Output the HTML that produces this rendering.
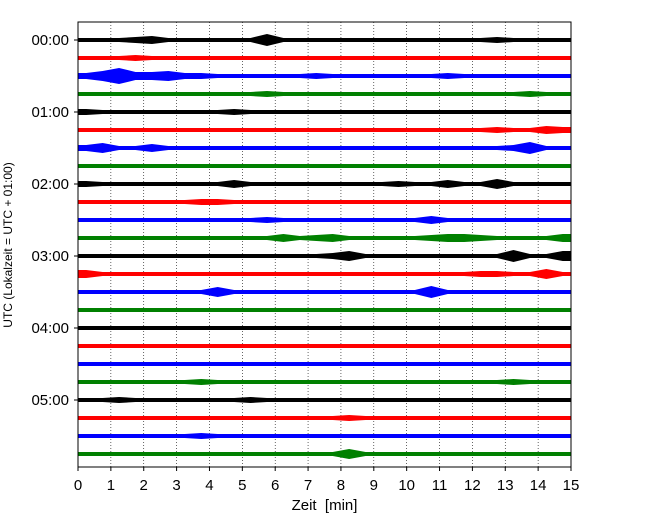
<!DOCTYPE html>
<html><head><meta charset="utf-8"><style>
body{margin:0;background:#fff;}
svg text{font-family:"Liberation Sans","DejaVu Sans",sans-serif;}
</style></head><body>
<svg id="chart" width="650" height="520" viewBox="0 0 650 520" xmlns="http://www.w3.org/2000/svg">
<rect x="0" y="0" width="650" height="520" fill="#fff"/>
<g id="grid"></g><g id="traces"></g><g id="axes"></g>
</svg>
<script>
// Data: row labels, colours, and per-trace amplitude envelopes (px half-amplitude per 0.5 min)
const rowLabels = ["00:00","01:00","02:00","03:00","04:00","05:00"];
const xTicks = [0,1,2,3,4,5,6,7,8,9,10,11,12,13,14,15];
const colors = ["#000000","#ff0000","#0000ff","#008000"];
const env = [
 [2,2,2,3,4,2,2,2,2,2,2,6,2,2,2,2,2,2,2,2,2,2,2,2,2,3,2,2,2,2],
 [2,2,2,3,2,2,2,2,2,2,2,2,2,2,2,2,2,2,2,2,2,2,2,2,2,2,2,2,2,2],
 [3,5,8,4,4,5,3,3,2,2,2,2,2,2,3,2,2,2,2,2,2,2,3,2,2,2,2,2,2,2],
 [2,2,2,2,2,2,2,2,2,2,2,3,2,2,2,2,2,2,2,2,2,2,2,2,2,2,2,3,2,2],
 [3,2,2,2,2,2,2,2,2,3,2,2,2,2,2,2,2,2,2,2,2,2,2,2,2,2,2,2,2,2],
 [2,2,2,2,2,2,2,2,2,2,2,2,2,2,2,2,2,2,2,2,2,2,2,2,2,3,2,2,4,3],
 [3,5,2,2,4,2,2,2,2,2,2,2,2,2,2,2,2,2,2,2,2,2,2,2,2,2,3,6,2,2],
 [2,2,2,2,2,2,2,2,2,2,2,2,2,2,2,2,2,2,2,2,2,2,2,2,2,2,2,2,2,2],
 [3,2,2,2,2,2,2,2,2,4,2,2,2,2,2,2,2,2,2,3,2,2,4,2,2,5,2,2,2,2],
 [2,2,2,2,2,2,2,3,3,2,2,2,2,2,2,2,2,2,2,2,2,2,2,2,2,2,2,2,2,2],
 [2,2,2,2,2,2,2,2,2,2,2,3,2,2,2,2,2,2,2,2,2,4,2,2,2,2,2,2,2,2],
 [2,2,2,2,2,2,2,2,2,2,2,2,4,2,3,4,2,2,2,2,2,3,4,4,3,2,2,2,2,4],
 [2,2,2,2,2,2,2,2,2,2,2,2,2,2,2,3,5,2,2,2,2,2,2,2,2,2,6,2,2,5],
 [4,2,2,2,2,2,2,2,2,2,2,2,2,2,2,2,2,2,2,2,2,2,2,2,3,3,2,2,5,2],
 [2,2,2,2,2,2,2,2,5,2,2,2,2,2,2,2,2,2,2,2,2,6,2,2,2,2,2,2,2,2],
 [2,2,2,2,2,2,2,2,2,2,2,2,2,2,2,2,2,2,2,2,2,2,2,2,2,2,2,2,2,2],
 [2,2,2,2,2,2,2,2,2,2,2,2,2,2,2,2,2,2,2,2,2,2,2,2,2,2,2,2,2,2],
 [2,2,2,2,2,2,2,2,2,2,2,2,2,2,2,2,2,2,2,2,2,2,2,2,2,2,2,2,2,2],
 [2,2,2,2,2,2,2,2,2,2,2,2,2,2,2,2,2,2,2,2,2,2,2,2,2,2,2,2,2,2],
 [2,2,2,2,2,2,2,3,2,2,2,2,2,2,2,2,2,2,2,2,2,2,2,2,2,2,3,2,2,2],
 [2,2,3,2,2,2,2,2,2,2,3,2,2,2,2,2,2,2,2,2,2,2,2,2,2,2,2,2,2,2],
 [2,2,2,2,2,2,2,2,2,2,2,2,2,2,2,2,3,2,2,2,2,2,2,2,2,2,2,2,2,2],
 [2,2,2,2,2,2,2,3,2,2,2,2,2,2,2,2,2,2,2,2,2,2,2,2,2,2,2,2,2,2],
 [2,2,2,2,2,2,2,2,2,2,2,2,2,2,2,2,5,2,2,2,2,2,2,2,2,2,2,2,2,2]
];
const NS="http://www.w3.org/2000/svg";
const L=78,R=571,T=22,B=467;
const xs=t=>L+(t/15)*(R-L);
const ys=i=>40+i*18;
function mk(tag,attrs,parent){const e=document.createElementNS(NS,tag);for(const k in attrs)e.setAttribute(k,attrs[k]);parent.appendChild(e);return e;}
const grid=document.getElementById('grid'),tr=document.getElementById('traces'),ax=document.getElementById('axes');
xTicks.forEach(t=>{if(t>0&&t<15){const g=mk('line',{x1:xs(t),x2:xs(t),y1:T,y2:B,stroke:'#000','stroke-width':0.6,'stroke-dasharray':'1,2'},grid);

}});
env.forEach((e,i)=>{
  const y=ys(i),n=e.length;let top=[xs(0)+','+(y-e[0])],bot=[xs(0)+','+(y+e[0])];
  for(let k=0;k<n;k++){const tc=(k+0.5)*15/n;
    top.push(xs(tc)+','+(y-e[k]));bot.unshift(xs(tc)+','+(y+e[k]));}
  top.push(xs(15)+','+(y-e[n-1]));bot.unshift(xs(15)+','+(y+e[n-1]));
  const p=mk('polygon',{points:top.concat(bot).join(' '),fill:colors[i%4]},tr);
  
  
});
const fr=mk('rect',{x:L,y:T,width:R-L,height:B-T,fill:'none',stroke:'#000','stroke-width':1},ax);


xTicks.forEach(t=>{mk('line',{x1:xs(t),x2:xs(t),y1:B,y2:B+4,stroke:'#000'},ax);
  const tx=mk('text',{x:xs(t),y:B+23,'text-anchor':'middle','font-size':15},ax);tx.textContent=t;
  
  });
rowLabels.forEach((s,j)=>{const y=ys(j*4);mk('line',{x1:L-4,x2:L,y1:y,y2:y,stroke:'#000'},ax);
  const tx=mk('text',{x:L-9,y:y+5,'text-anchor':'end','font-size':15},ax);tx.textContent=s;
  
  });
const xl=mk('text',{x:(L+R)/2,y:510,'text-anchor':'middle','font-size':15},ax);xl.textContent='Zeit\u00a0 [min]';


const yl=mk('text',{x:0,y:0,'text-anchor':'middle','font-size':12,transform:'translate(12,245) rotate(-90)'},ax);yl.textContent='UTC (Lokalzeit = UTC + 01:00)';


</script>
</body></html>
